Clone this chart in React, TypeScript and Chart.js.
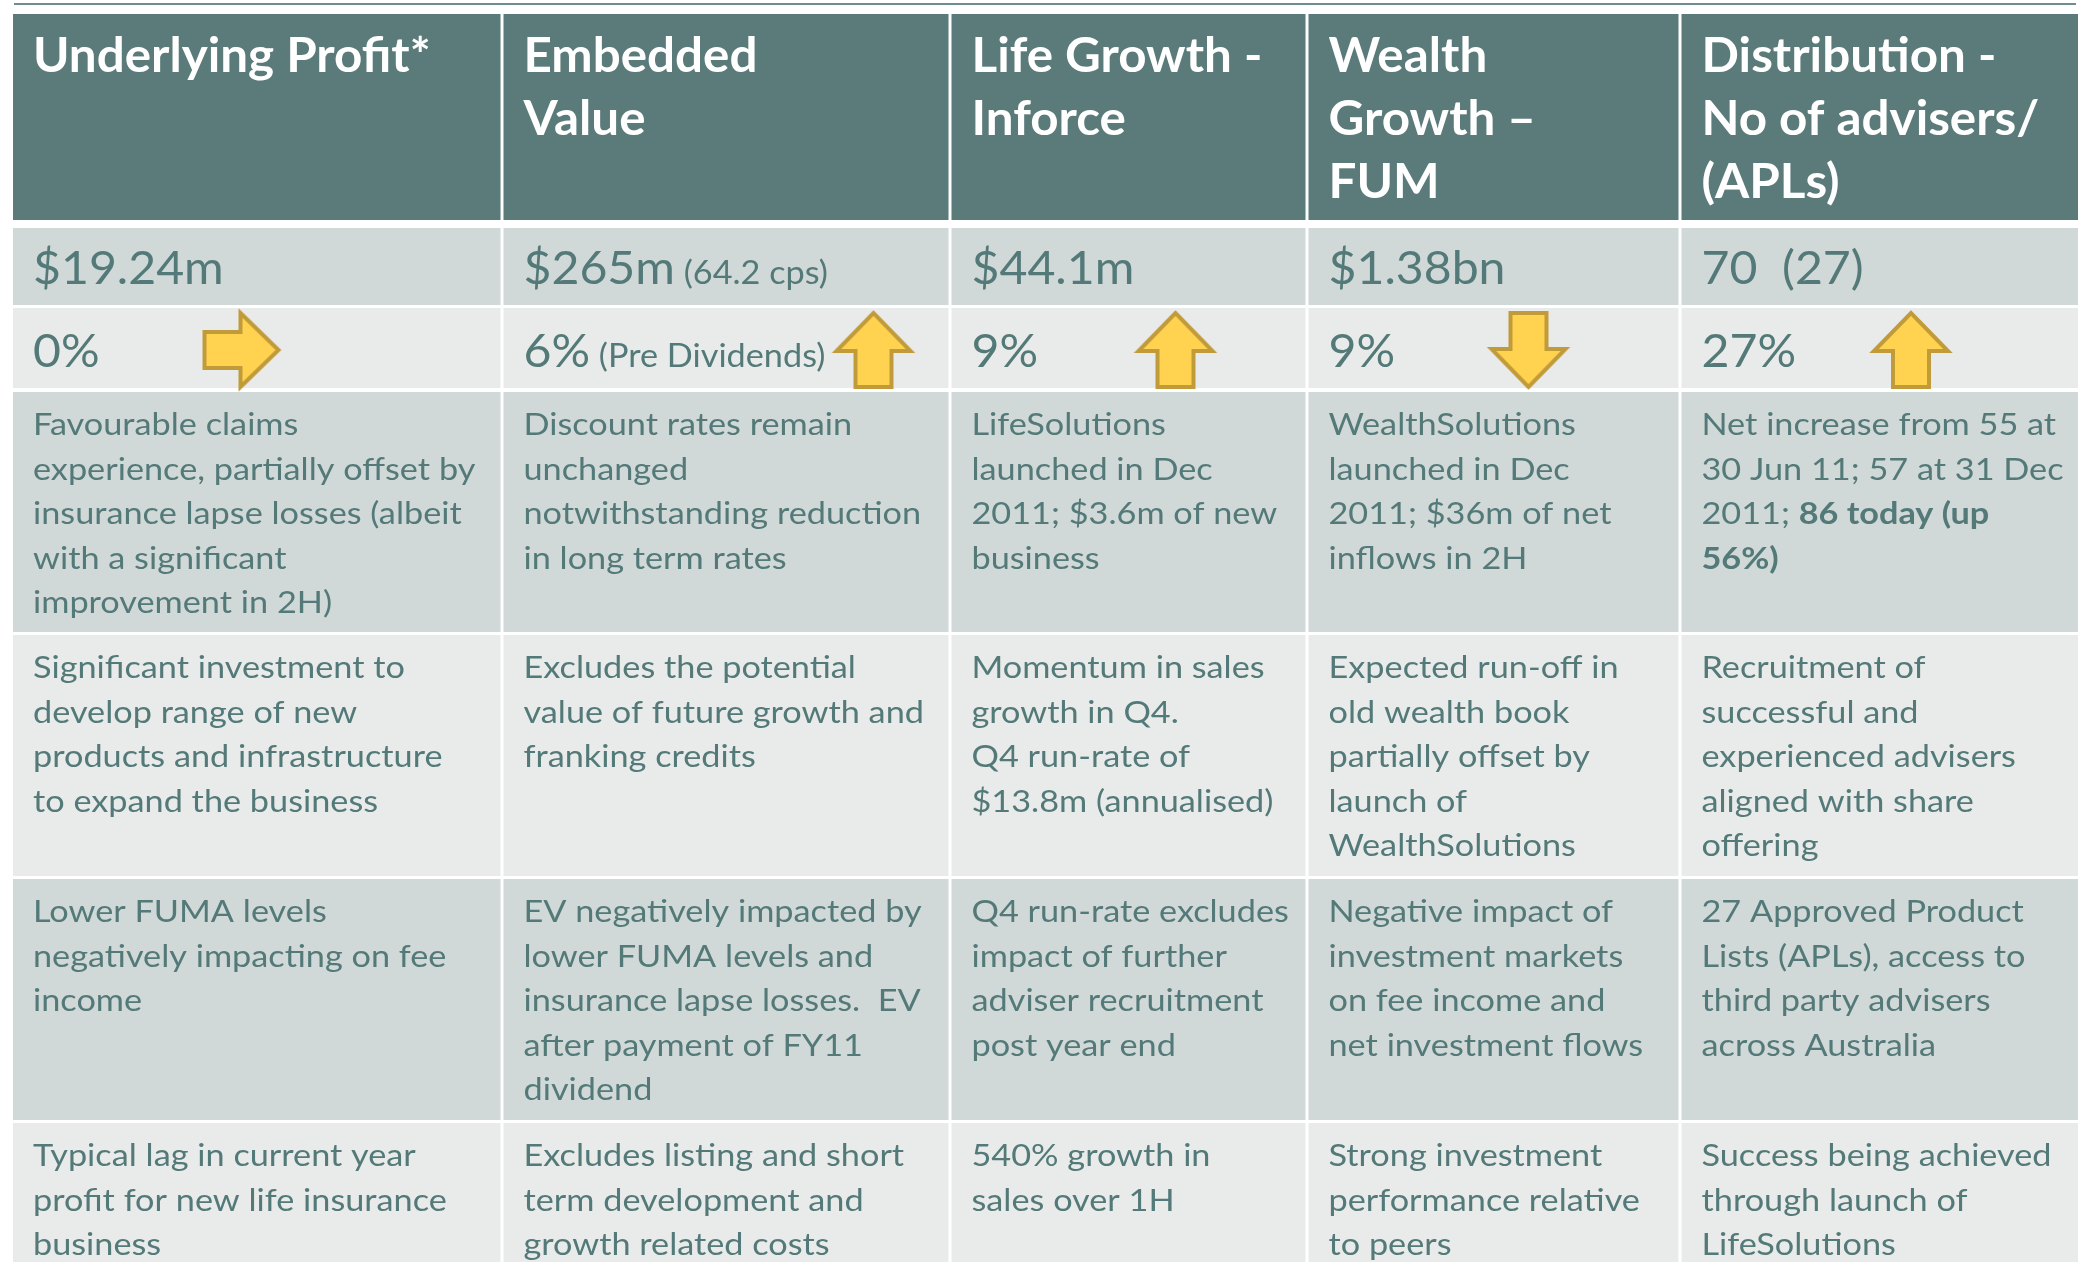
import React, { useEffect, useRef } from "react";
import { Chart, registerables } from "chart.js";

Chart.register(...registerables);

// ---------- DATA ----------
const headers = [
  "Underlying Profit*",
  "Embedded\nValue",
  "Life Growth -\nInforce",
  "Wealth\nGrowth –\nFUM",
  "Distribution -\nNo of advisers/\n(APLs)",
];
const headlineValues = ["$19.24m", "$265m", "$44.1m", "$1.38bn", "70  (27)"];
const headlineNotes = ["", "(64.2 cps)", "", "", ""];
const changePercents = ["0%", "6%", "9%", "9%", "27%"];
const changeNotes = ["", "(Pre Dividends)", "", "", ""];
const trendDirections = ["right", "up", "up", "down", "up"];
const resultDrivers = [
  "Favourable claims\nexperience, partially offset by\ninsurance lapse losses (albeit\nwith a significant\nimprovement in 2H)",
  "Discount rates remain\nunchanged\nnotwithstanding reduction\nin long term rates",
  "LifeSolutions\nlaunched in Dec\n2011; $3.6m of new\nbusiness",
  "WealthSolutions\nlaunched in Dec\n2011; $36m of net\ninflows in 2H",
  "Net increase from 55 at\n30 Jun 11; 57 at 31 Dec\n2011; **86 today (up**\n**56%)**",
];
const investmentNotes = [
  "Significant investment to\ndevelop range of new\nproducts and infrastructure\nto expand the business",
  "Excludes the potential\nvalue of future growth and\nfranking credits",
  "Momentum in sales\ngrowth in Q4.\nQ4 run-rate of\n$13.8m (annualised)",
  "Expected run-off in\nold wealth book\npartially offset by\nlaunch of\nWealthSolutions",
  "Recruitment of\nsuccessful and\nexperienced advisers\naligned with share\noffering",
];
const marketImpacts = [
  "Lower FUMA levels\nnegatively impacting on fee\nincome",
  "EV negatively impacted by\nlower FUMA levels and\ninsurance lapse losses.  EV\nafter payment of FY11\ndividend",
  "Q4 run-rate excludes\nimpact of further\nadviser recruitment\npost year end",
  "Negative impact of\ninvestment markets\non fee income and\nnet investment flows",
  "27 Approved Product\nLists (APLs), access to\nthird party advisers\nacross Australia",
];
const growthNotes = [
  "Typical lag in current year\nprofit for new life insurance\nbusiness",
  "Excludes listing and short\nterm development and\ngrowth related costs",
  "540% growth in\nsales over 1H",
  "Strong investment\nperformance relative\nto peers",
  "Success being achieved\nthrough launch of\nLifeSolutions",
];

// ---------- LAYOUT / STYLE ----------
const W = 2078;
const H = 1262;
const COL_EDGES = [13, 502, 950, 1307, 1680, 2110];
const ROW_TOPS = [14, 228, 308, 392, 635, 879, 1123];
const ROW_BOTTOMS = [220, 305, 388, 632, 876, 1120, 1300];
const ROW_FILLS = ["#5B7B7A", "#D1D8D8", "#E9EBEA", "#D1D8D8", "#E9EBEA", "#D1D8D8", "#E9EBEA"];
const ARROW_OFFSETS = [228.5, 371.5, 225.5, 221.5, 231];
const ARROW_Y = 350;
const PAD_X = 20;
const TEXT_COLOR = "#537A78";
const FONT = "Lato, 'Open Sans', sans-serif";

function drawRich(
  ctx: CanvasRenderingContext2D,
  line: string,
  x: number,
  y: number,
  size: number,
  baseWeight: number,
  color: string,
  stretch: number
) {
  const parts = line.split("**");
  let cx = x;
  parts.forEach((seg, i) => {
    if (!seg) return;
    const bold = i % 2 === 1;
    ctx.font = `${bold ? 700 : baseWeight} ${size}px ${FONT}`;
    ctx.fillStyle = color;
    ctx.save();
    ctx.translate(cx, y);
    ctx.scale(stretch, 1);
    ctx.fillText(seg, 0, 0);
    ctx.restore();
    cx += ctx.measureText(seg).width * stretch;
  });
  return cx;
}

function makeArrow(): HTMLCanvasElement {
  const c = document.createElement("canvas");
  c.width = 86;
  c.height = 86;
  const g = c.getContext("2d")!;
  const cx = 43, cy = 43;
  const len = 74, shaft = 36, head = 38, half = 37;
  const x0 = cx - len / 2, x1 = cx + len / 2, xh = x1 - head;
  g.beginPath();
  g.moveTo(x0, cy - shaft / 2);
  g.lineTo(xh, cy - shaft / 2);
  g.lineTo(xh, cy - half);
  g.lineTo(x1, cy);
  g.lineTo(xh, cy + half);
  g.lineTo(xh, cy + shaft / 2);
  g.lineTo(x0, cy + shaft / 2);
  g.closePath();
  g.fillStyle = "#FFD24F";
  g.fill();
  g.lineWidth = 4;
  g.lineJoin = "miter";
  g.strokeStyle = "#C19B3A";
  g.stroke();
  return c;
}

const tablePlugin = {
  id: "tableCells",
  beforeDatasetsDraw(chart: any) {
    const ctx: CanvasRenderingContext2D = chart.ctx;
    const xs = chart.scales.x;
    const ys = chart.scales.y;
    const px = (v: number) => xs.getPixelForValue(v);
    const py = (v: number) => ys.getPixelForValue(v);
    ctx.save();
    ctx.fillStyle = "#FFFFFF";
    ctx.fillRect(0, 0, chart.width, chart.height);
    // top rule
    ctx.strokeStyle = "#6F8D8C";
    ctx.lineWidth = 2;
    ctx.beginPath();
    ctx.moveTo(px(14), py(4));
    ctx.lineTo(px(2076), py(4));
    ctx.stroke();

    // cells
    for (let r = 0; r < ROW_TOPS.length; r++) {
      for (let c = 0; c < 5; c++) {
        const l = COL_EDGES[c] + (c ? 1.5 : 0);
        const rr = COL_EDGES[c + 1] - 1.5;
        ctx.fillStyle = ROW_FILLS[r];
        ctx.fillRect(px(l), py(ROW_TOPS[r]), px(rr) - px(l), py(ROW_BOTTOMS[r]) - py(ROW_TOPS[r]));
      }
    }

    ctx.textBaseline = "alphabetic";
    ctx.textAlign = "left";
    for (let c = 0; c < 5; c++) {
      const tx = px(COL_EDGES[c] + (c ? 1.5 : 0) + PAD_X);
      headers[c].split("\n").forEach((ln, i) => {
        drawRich(ctx, ln, tx, py(72 + i * 63), 47, 700, "#FFFFFF", 1.05);
      });
      let end = drawRich(ctx, headlineValues[c], tx, py(284), 47, 400, TEXT_COLOR, 1.025);
      if (headlineNotes[c]) drawRich(ctx, " " + headlineNotes[c], end, py(284), 32, 400, TEXT_COLOR, 1.07);
      end = drawRich(ctx, changePercents[c], tx, py(367), 47, 400, TEXT_COLOR, 1.025);
      if (changeNotes[c]) drawRich(ctx, " " + changeNotes[c], end, py(367), 32, 400, TEXT_COLOR, 1.07);
      const bodies = [resultDrivers, investmentNotes, marketImpacts, growthNotes];
      bodies.forEach((arr, bi) => {
        const top = ROW_TOPS[3 + bi];
        arr[c].split("\n").forEach((ln, i) => {
          drawRich(ctx, ln, tx, py(top + 43 + i * 44.6), 31, 400, TEXT_COLOR, 1.105);
        });
      });
    }
    ctx.restore();
  },
};

export default function App() {
  const ref = useRef<HTMLCanvasElement | null>(null);
  useEffect(() => {
    if (!ref.current) return;
    const arrow = makeArrow();
    const rot: Record<string, number> = { right: 0, up: -90, down: 90 };
    const chart = new Chart(ref.current, {
      type: "scatter",
      data: {
        datasets: [
          {
            data: trendDirections.map((_, i) => ({ x: COL_EDGES[i] + ARROW_OFFSETS[i], y: ARROW_Y })),
            pointStyle: arrow as any,
            rotation: trendDirections.map((d) => rot[d]) as any,
            pointRadius: 20,
            pointHoverRadius: 20,
            clip: false as any,
          },
        ],
      },
      options: {
        animation: false,
        responsive: false,
        events: [],
        layout: { padding: 0, autoPadding: false },
        plugins: { legend: { display: false }, tooltip: { enabled: false } },
        scales: {
          x: { type: "linear", min: 0, max: W, display: false },
          y: { type: "linear", min: 0, max: H, reverse: true, display: false },
        },
      },
      plugins: [tablePlugin],
    });
    return () => chart.destroy();
  }, []);
  return (
    <div style={{ position: "fixed", left: 0, top: 0, width: W, height: H, overflow: "hidden", background: "#fff" }}>
      <canvas ref={ref} width={W} height={H} style={{ width: W, height: H, display: "block" }} />
    </div>
  );
}
